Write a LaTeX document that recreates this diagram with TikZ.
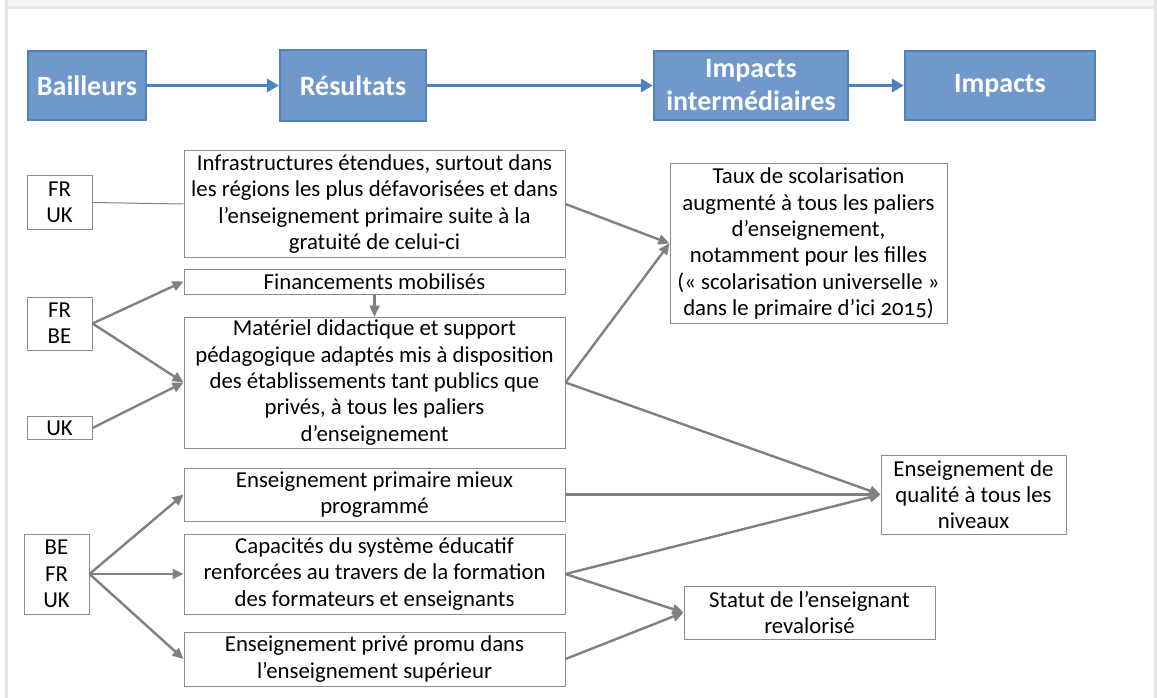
\documentclass[tikz,border=0pt]{standalone}
\usepackage{fontspec}
\setmainfont{Carlito}[Numbers=OldStyle]
\usetikzlibrary{arrows.meta}
\definecolor{hdrfill}{RGB}{112,152,203}
\definecolor{hdrline}{RGB}{79,129,189}
\definecolor{conn}{RGB}{128,128,128}
\definecolor{boxline}{RGB}{140,140,140}
\definecolor{framec}{RGB}{230,230,230}
\definecolor{bandc}{RGB}{244,244,244}
\tikzset{
  hdr/.style={draw=hdrline, line width=2.2pt, fill=hdrfill, text=white, font=\fontsize{28}{33}\selectfont\bfseries, align=center, inner sep=0pt},
  box/.style={draw=boxline, line width=1pt, fill=white, align=center, inner sep=0pt, font=\fontsize{22.8}{26.3}\selectfont},
  harrow/.style={draw=hdrline, line width=3pt, -{Triangle[length=12pt,width=13pt]}},
  garrow/.style={draw=conn, line width=2.4pt, -{Triangle[length=11pt,width=10pt]}},
  gline/.style={draw=conn, line width=1pt}
}
\begin{document}
\begin{tikzpicture}[x=1pt,y=-1pt]
\useasboundingbox (0,0) rectangle (1157,698);
% frame
\fill[bandc] (8,0) rectangle (1154,6);
\fill[framec] (8,6) rectangle (1154,9);
\fill[framec] (5,0) rectangle (8,698);
\fill[framec] (1154,0) rectangle (1157,698);
% header
\node[hdr, minimum width=118pt, minimum height=69pt] (bail) at (87,85.5) {Bailleurs};
\node[hdr, minimum width=146pt, minimum height=71pt] (res) at (353,85.5) {Résultats};
\node[hdr, minimum width=194pt, minimum height=69pt] (impi) at (751,85.5) {Impacts\\intermédiaires};
\node[hdr, minimum width=190pt, minimum height=69pt] (imp) at (1000,85.5) {Impacts};
\draw[harrow] (bail.east) -- (res.west);
\draw[harrow] (res.east) -- (impi.west);
\draw[harrow] (impi.east) -- (imp.west);
% donors
\node[box, minimum width=65pt, minimum height=53pt] (fruk) at (59.5,202.5) {FR\\UK};
\node[box, minimum width=65pt, minimum height=53pt] (frbe) at (59.5,323.5) {FR\\BE};
\node[box, minimum width=65pt, minimum height=23pt] (uk) at (59.5,428) {UK};
\node[box, minimum width=65pt, minimum height=80pt] (befruk) at (56.5,574) {BE\\FR\\UK};
% results
\node[box, minimum width=381pt, minimum height=106pt] (infra) at (374.5,204) {Infrastructures étendues, surtout dans\\les régions les plus défavorisées et dans\\l’enseignement primaire suite à la\\gratuité de celui-ci};
\node[box, minimum width=381pt, minimum height=25pt] (fin) at (374.5,281.5) {Financements mobilisés};
\node[box, minimum width=381pt, minimum height=131pt] (mat) at (374.5,382.5) {Matériel didactique et support\\pédagogique adaptés mis à disposition\\des établissements tant publics que\\privés, à tous les paliers\\d’enseignement};
\node[box, minimum width=381pt, minimum height=53pt] (prim) at (374.5,494.5) {Enseignement primaire mieux\\programmé};
\node[box, minimum width=381pt, minimum height=80pt] (cap) at (374.5,574) {Capacités du système éducatif\\renforcées au travers de la formation\\des formateurs et enseignants};
\node[box, minimum width=381pt, minimum height=54pt] (priv) at (374.5,659) {Enseignement privé promu dans\\l’enseignement supérieur};
% impacts
\node[box, minimum width=277pt, minimum height=159pt] (taux) at (808.5,243.5) {Taux de scolarisation\\augmenté à tous les paliers\\d’enseignement,\\notamment pour les filles\\(«~scolarisation universelle~»\\dans le primaire d’ici 2015)};
\node[box, minimum width=185pt, minimum height=79pt] (qual) at (973.5,494.5) {Enseignement de\\qualité à tous les\\niveaux};
\node[box, minimum width=251pt, minimum height=53pt] (stat) at (809.5,612.5) {Statut de l’enseignant\\revalorisé};
% connectors
\draw[gline] (fruk.east) -- (infra.west);
\draw[garrow] (frbe.east) -- (fin.west);
\draw[garrow] (frbe.east) -- (mat.west);
\draw[garrow] (uk.east) -- (mat.west);
\draw[garrow] (fin.south) -- (mat.north);
\draw[garrow] (infra.east) -- (taux.west);
\draw[garrow] (mat.east) -- (taux.west);
\draw[garrow] (mat.east) -- (qual.west);
\draw[garrow] (prim.east) -- (qual.west);
\draw[garrow] (cap.east) -- (qual.west);
\draw[garrow] (cap.east) -- (stat.west);
\draw[garrow] (priv.east) -- (stat.west);
\draw[garrow] (befruk.east) -- (prim.west);
\draw[garrow] (befruk.east) -- (cap.west);
\draw[garrow] (befruk.east) -- (priv.west);
\end{tikzpicture}
\end{document}
